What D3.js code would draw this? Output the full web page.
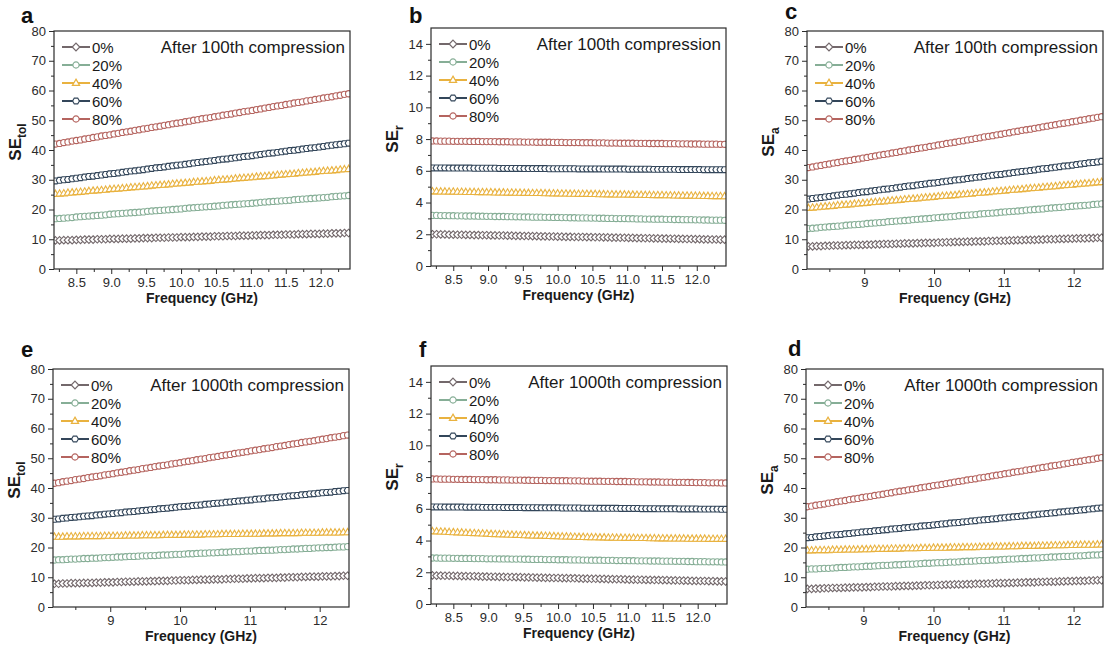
<!DOCTYPE html>
<html>
<head>
<meta charset="utf-8">
<script src="https://cdn.jsdelivr.net/npm/d3@7/dist/d3.min.js"></script>
<style>
  html, body { margin: 0; padding: 0; background: #fff; }
  svg { display: block; }
</style>
</head>
<body>
<script>
// Frequency sweep, X band (GHz)
const freq = [8.20,8.26,8.32,8.38,8.44,8.50,8.56,8.62,8.68,8.74,8.80,8.86,8.92,8.98,9.04,9.10,9.16,9.22,9.28,9.34,
  9.40,9.46,9.52,9.58,9.64,9.70,9.76,9.82,9.88,9.94,10.00,10.06,10.12,10.18,10.24,10.30,10.36,10.42,10.48,10.54,
  10.60,10.66,10.72,10.78,10.84,10.90,10.96,11.02,11.08,11.14,11.20,11.26,11.32,11.38,11.44,11.50,11.56,11.62,11.68,11.74,
  11.80,11.86,11.92,11.98,12.04,12.10,12.16,12.22,12.28,12.34,12.40];

const strainLabels = ["0%", "20%", "40%", "60%", "80%"];

// Total shielding effectiveness after 100 compression cycles (dB)
const seTol100 = [
  [9.6,9.6,9.7,9.7,9.7,9.8,9.8,9.9,9.9,9.9,10.0,10.0,10.0,10.1,10.1,10.1,10.2,10.2,10.2,10.3,
   10.3,10.4,10.4,10.4,10.5,10.5,10.5,10.6,10.6,10.6,10.7,10.7,10.7,10.8,10.8,10.9,10.9,10.9,11.0,11.0,
   11.0,11.1,11.1,11.1,11.2,11.2,11.2,11.3,11.3,11.4,11.4,11.4,11.5,11.5,11.5,11.6,11.6,11.6,11.7,11.7,
   11.7,11.8,11.8,11.8,11.9,11.9,12.0,12.0,12.0,12.1,12.1],
  [16.9,17.0,17.1,17.2,17.3,17.5,17.6,17.7,17.8,17.9,18.0,18.1,18.2,18.4,18.5,18.6,18.7,18.8,18.9,19.0,
   19.1,19.2,19.4,19.5,19.6,19.7,19.8,19.9,20.0,20.1,20.2,20.4,20.5,20.6,20.7,20.8,20.9,21.0,21.1,21.2,
   21.4,21.5,21.6,21.7,21.8,21.9,22.0,22.1,22.2,22.4,22.5,22.6,22.7,22.8,22.9,23.0,23.1,23.3,23.4,23.5,
   23.6,23.7,23.8,23.9,24.0,24.1,24.3,24.4,24.5,24.6,24.7],
  [25.2,25.3,25.4,25.6,25.7,25.8,25.9,26.0,26.2,26.3,26.4,26.5,26.6,26.8,26.9,27.0,27.1,27.2,27.4,27.5,
   27.6,27.7,27.8,28.0,28.1,28.2,28.3,28.4,28.6,28.7,28.8,28.9,29.0,29.2,29.3,29.4,29.5,29.6,29.8,29.9,
   30.0,30.1,30.2,30.4,30.5,30.6,30.7,30.8,31.0,31.1,31.2,31.3,31.4,31.6,31.7,31.8,31.9,32.0,32.2,32.3,
   32.4,32.5,32.6,32.8,32.9,33.0,33.1,33.2,33.4,33.5,33.6],
  [29.6,29.8,30.0,30.1,30.3,30.5,30.7,30.9,31.1,31.2,31.4,31.6,31.8,32.0,32.1,32.3,32.5,32.7,32.9,33.0,
   33.2,33.4,33.6,33.8,34.0,34.1,34.3,34.5,34.7,34.9,35.0,35.2,35.4,35.6,35.8,36.0,36.1,36.3,36.5,36.7,
   36.9,37.0,37.2,37.4,37.6,37.8,37.9,38.1,38.3,38.5,38.7,38.9,39.0,39.2,39.4,39.6,39.8,39.9,40.1,40.3,
   40.5,40.7,40.8,41.0,41.2,41.4,41.6,41.8,41.9,42.1,42.3],
  [42.0,42.2,42.5,42.7,43.0,43.2,43.4,43.7,43.9,44.2,44.4,44.7,44.9,45.1,45.4,45.6,45.9,46.1,46.3,46.6,
   46.8,47.1,47.3,47.6,47.8,48.0,48.3,48.5,48.8,49.0,49.2,49.5,49.7,50.0,50.2,50.5,50.7,50.9,51.2,51.4,
   51.7,51.9,52.1,52.4,52.6,52.9,53.1,53.3,53.6,53.8,54.1,54.3,54.6,54.8,55.0,55.3,55.5,55.8,56.0,56.2,
   56.5,56.7,57.0,57.2,57.5,57.7,57.9,58.2,58.4,58.7,58.9]
];

// Reflection loss after 100 compression cycles (dB)
const seR100 = [
  [2.00,2.00,1.99,1.99,1.98,1.98,1.97,1.97,1.96,1.96,1.95,1.95,1.94,1.94,1.93,1.93,1.92,1.92,1.91,1.91,
   1.90,1.90,1.89,1.89,1.88,1.88,1.87,1.87,1.86,1.86,1.85,1.85,1.84,1.84,1.83,1.83,1.83,1.82,1.82,1.81,
   1.81,1.80,1.80,1.79,1.79,1.78,1.78,1.77,1.77,1.76,1.76,1.75,1.75,1.74,1.74,1.73,1.73,1.72,1.72,1.71,
   1.71,1.70,1.70,1.69,1.69,1.68,1.68,1.67,1.67,1.66,1.66],
  [3.19,3.19,3.18,3.18,3.17,3.17,3.16,3.16,3.15,3.15,3.15,3.14,3.14,3.13,3.13,3.12,3.12,3.12,3.11,3.11,
   3.10,3.10,3.09,3.09,3.08,3.08,3.08,3.07,3.07,3.06,3.06,3.05,3.05,3.04,3.04,3.03,3.03,3.03,3.02,3.02,
   3.01,3.01,3.00,3.00,2.99,2.99,2.99,2.98,2.98,2.97,2.97,2.96,2.96,2.95,2.95,2.95,2.94,2.94,2.93,2.93,
   2.92,2.92,2.92,2.91,2.91,2.90,2.90,2.89,2.89,2.89,2.88],
  [4.70,4.70,4.69,4.69,4.68,4.68,4.67,4.67,4.66,4.66,4.66,4.65,4.65,4.64,4.64,4.63,4.63,4.63,4.62,4.62,
   4.61,4.61,4.60,4.60,4.59,4.59,4.59,4.58,4.58,4.57,4.57,4.56,4.56,4.55,4.55,4.54,4.54,4.54,4.53,4.53,
   4.52,4.52,4.51,4.51,4.50,4.50,4.50,4.49,4.49,4.48,4.48,4.47,4.47,4.46,4.46,4.46,4.45,4.45,4.44,4.44,
   4.43,4.43,4.43,4.42,4.42,4.41,4.41,4.40,4.40,4.40,4.39],
  [6.18,6.18,6.18,6.18,6.17,6.17,6.17,6.17,6.17,6.17,6.16,6.16,6.16,6.16,6.16,6.16,6.15,6.15,6.15,6.15,
   6.15,6.15,6.14,6.14,6.14,6.14,6.14,6.14,6.13,6.13,6.13,6.13,6.13,6.13,6.13,6.12,6.12,6.12,6.12,6.12,
   6.12,6.11,6.11,6.11,6.11,6.11,6.11,6.10,6.10,6.10,6.10,6.10,6.10,6.09,6.09,6.09,6.09,6.09,6.09,6.08,
   6.08,6.08,6.08,6.08,6.08,6.07,6.07,6.07,6.07,6.07,6.07],
  [7.88,7.88,7.87,7.87,7.87,7.86,7.86,7.86,7.86,7.85,7.85,7.85,7.84,7.84,7.84,7.84,7.83,7.83,7.83,7.82,
   7.82,7.82,7.81,7.81,7.81,7.80,7.80,7.80,7.80,7.79,7.79,7.79,7.78,7.78,7.78,7.78,7.77,7.77,7.77,7.76,
   7.76,7.76,7.75,7.75,7.75,7.74,7.74,7.74,7.74,7.73,7.73,7.73,7.72,7.72,7.72,7.72,7.71,7.71,7.71,7.70,
   7.70,7.70,7.69,7.69,7.69,7.68,7.68,7.68,7.68,7.67,7.67]
];

// Absorption loss after 100 compression cycles (dB)
const seA100 = [
  [7.6,7.6,7.7,7.7,7.8,7.8,7.9,7.9,7.9,8.0,8.0,8.1,8.1,8.1,8.2,8.2,8.3,8.3,8.4,8.4,
   8.4,8.5,8.5,8.6,8.6,8.6,8.7,8.7,8.8,8.8,8.8,8.9,8.9,9.0,9.0,9.1,9.1,9.1,9.2,9.2,
   9.3,9.3,9.3,9.4,9.4,9.5,9.5,9.5,9.6,9.6,9.7,9.7,9.8,9.8,9.8,9.9,9.9,10.0,10.0,10.0,
   10.1,10.1,10.2,10.2,10.3,10.3,10.3,10.4,10.4,10.5,10.5],
  [13.6,13.7,13.8,14.0,14.1,14.2,14.3,14.4,14.5,14.7,14.8,14.9,15.0,15.1,15.3,15.4,15.5,15.6,15.7,15.9,
   16.0,16.1,16.2,16.3,16.4,16.6,16.7,16.8,16.9,17.0,17.2,17.3,17.4,17.5,17.6,17.7,17.9,18.0,18.1,18.2,
   18.3,18.5,18.6,18.7,18.8,18.9,19.1,19.2,19.3,19.4,19.5,19.6,19.8,19.9,20.0,20.1,20.2,20.4,20.5,20.6,
   20.7,20.8,21.0,21.1,21.2,21.3,21.4,21.5,21.7,21.8,21.9],
  [20.5,20.6,20.7,20.9,21.0,21.1,21.2,21.4,21.5,21.6,21.7,21.9,22.0,22.1,22.2,22.4,22.5,22.6,22.7,22.9,
   23.0,23.1,23.2,23.4,23.5,23.6,23.7,23.9,24.0,24.1,24.2,24.4,24.5,24.6,24.7,24.8,25.0,25.1,25.2,25.3,
   25.5,25.6,25.7,25.8,26.0,26.1,26.2,26.3,26.5,26.6,26.7,26.8,27.0,27.1,27.2,27.3,27.5,27.6,27.7,27.8,
   28.0,28.1,28.2,28.3,28.5,28.6,28.7,28.8,29.0,29.1,29.2],
  [23.5,23.7,23.9,24.0,24.2,24.4,24.6,24.8,25.0,25.1,25.3,25.5,25.7,25.9,26.0,26.2,26.4,26.6,26.8,26.9,
   27.1,27.3,27.5,27.7,27.9,28.0,28.2,28.4,28.6,28.8,28.9,29.1,29.3,29.5,29.7,29.9,30.0,30.2,30.4,30.6,
   30.8,30.9,31.1,31.3,31.5,31.7,31.8,32.0,32.2,32.4,32.6,32.8,32.9,33.1,33.3,33.5,33.7,33.8,34.0,34.2,
   34.4,34.6,34.7,34.9,35.1,35.3,35.5,35.7,35.8,36.0,36.2],
  [34.1,34.3,34.6,34.8,35.1,35.3,35.6,35.8,36.1,36.3,36.5,36.8,37.0,37.3,37.5,37.8,38.0,38.3,38.5,38.7,
   39.0,39.2,39.5,39.7,40.0,40.2,40.5,40.7,40.9,41.2,41.4,41.7,41.9,42.2,42.4,42.6,42.9,43.1,43.4,43.6,
   43.9,44.1,44.4,44.6,44.8,45.1,45.3,45.6,45.8,46.1,46.3,46.6,46.8,47.0,47.3,47.5,47.8,48.0,48.3,48.5,
   48.8,49.0,49.2,49.5,49.7,50.0,50.2,50.5,50.7,51.0,51.2]
];

// Total shielding effectiveness after 1000 compression cycles (dB)
const seTol1000 = [
  [7.8,7.8,7.9,7.9,8.0,8.0,8.0,8.1,8.1,8.1,8.2,8.2,8.3,8.3,8.3,8.4,8.4,8.5,8.5,8.5,
   8.6,8.6,8.6,8.7,8.7,8.8,8.8,8.8,8.9,8.9,9.0,9.0,9.0,9.1,9.1,9.2,9.2,9.2,9.3,9.3,
   9.3,9.4,9.4,9.5,9.5,9.5,9.6,9.6,9.7,9.7,9.7,9.8,9.8,9.8,9.9,9.9,10.0,10.0,10.0,10.1,
   10.1,10.2,10.2,10.2,10.3,10.3,10.3,10.4,10.4,10.5,10.5],
  [15.8,15.9,15.9,16.0,16.1,16.1,16.2,16.3,16.3,16.4,16.4,16.5,16.6,16.6,16.7,16.8,16.8,16.9,17.0,17.0,
   17.1,17.2,17.2,17.3,17.3,17.4,17.5,17.5,17.6,17.7,17.7,17.8,17.9,17.9,18.0,18.1,18.1,18.2,18.2,18.3,
   18.4,18.4,18.5,18.6,18.6,18.7,18.8,18.8,18.9,19.0,19.0,19.1,19.1,19.2,19.3,19.3,19.4,19.5,19.5,19.6,
   19.7,19.7,19.8,19.9,19.9,20.0,20.0,20.1,20.2,20.2,20.3],
  [23.6,23.6,23.6,23.7,23.7,23.7,23.7,23.8,23.8,23.8,23.8,23.8,23.9,23.9,23.9,23.9,23.9,24.0,24.0,24.0,
   24.0,24.1,24.1,24.1,24.1,24.1,24.2,24.2,24.2,24.2,24.2,24.3,24.3,24.3,24.3,24.3,24.4,24.4,24.4,24.4,
   24.5,24.5,24.5,24.5,24.5,24.6,24.6,24.6,24.6,24.6,24.7,24.7,24.7,24.7,24.8,24.8,24.8,24.8,24.8,24.9,
   24.9,24.9,24.9,24.9,25.0,25.0,25.0,25.0,25.0,25.1,25.1],
  [29.5,29.6,29.8,29.9,30.1,30.2,30.3,30.5,30.6,30.7,30.9,31.0,31.2,31.3,31.4,31.6,31.7,31.9,32.0,32.1,
   32.3,32.4,32.5,32.7,32.8,33.0,33.1,33.2,33.4,33.5,33.7,33.8,33.9,34.1,34.2,34.3,34.5,34.6,34.8,34.9,
   35.0,35.2,35.3,35.5,35.6,35.7,35.9,36.0,36.2,36.3,36.4,36.6,36.7,36.8,37.0,37.1,37.3,37.4,37.5,37.7,
   37.8,38.0,38.1,38.2,38.4,38.5,38.6,38.8,38.9,39.1,39.2],
  [41.6,41.8,42.1,42.3,42.5,42.8,43.0,43.2,43.5,43.7,43.9,44.1,44.4,44.6,44.8,45.1,45.3,45.5,45.8,46.0,
   46.2,46.5,46.7,46.9,47.2,47.4,47.6,47.8,48.1,48.3,48.5,48.8,49.0,49.2,49.5,49.7,49.9,50.2,50.4,50.6,
   50.9,51.1,51.3,51.6,51.8,52.0,52.2,52.5,52.7,52.9,53.2,53.4,53.6,53.9,54.1,54.3,54.6,54.8,55.0,55.3,
   55.5,55.7,55.9,56.2,56.4,56.6,56.9,57.1,57.3,57.6,57.8]
];

// Reflection loss after 1000 compression cycles (dB)
const seR1000 = [
  [1.80,1.79,1.79,1.78,1.78,1.77,1.77,1.76,1.76,1.75,1.75,1.74,1.73,1.73,1.72,1.72,1.71,1.71,1.70,1.70,
   1.69,1.69,1.68,1.68,1.67,1.66,1.66,1.65,1.65,1.64,1.64,1.63,1.63,1.62,1.62,1.61,1.60,1.60,1.59,1.59,
   1.58,1.58,1.57,1.57,1.56,1.56,1.55,1.54,1.54,1.53,1.53,1.52,1.52,1.51,1.51,1.50,1.50,1.49,1.49,1.48,
   1.47,1.47,1.46,1.46,1.45,1.45,1.44,1.44,1.43,1.43,1.42],
  [2.90,2.90,2.89,2.89,2.89,2.88,2.88,2.87,2.87,2.87,2.86,2.86,2.86,2.85,2.85,2.85,2.84,2.84,2.84,2.83,
   2.83,2.83,2.82,2.82,2.81,2.81,2.81,2.80,2.80,2.80,2.79,2.79,2.79,2.78,2.78,2.78,2.77,2.77,2.76,2.76,
   2.76,2.75,2.75,2.75,2.74,2.74,2.74,2.73,2.73,2.72,2.72,2.72,2.71,2.71,2.71,2.70,2.70,2.70,2.69,2.69,
   2.69,2.68,2.68,2.67,2.67,2.67,2.66,2.66,2.66,2.65,2.65],
  [4.58,4.57,4.56,4.55,4.53,4.52,4.51,4.50,4.48,4.47,4.46,4.45,4.44,4.43,4.41,4.40,4.39,4.38,4.37,4.36,
   4.35,4.34,4.33,4.32,4.31,4.30,4.30,4.29,4.28,4.27,4.26,4.25,4.25,4.24,4.23,4.22,4.22,4.21,4.20,4.20,
   4.19,4.19,4.18,4.18,4.17,4.17,4.16,4.16,4.16,4.15,4.15,4.15,4.14,4.14,4.13,4.13,4.13,4.12,4.12,4.12,
   4.12,4.11,4.11,4.11,4.11,4.11,4.10,4.10,4.10,4.10,4.10],
  [6.12,6.12,6.12,6.11,6.11,6.11,6.11,6.11,6.10,6.10,6.10,6.10,6.09,6.09,6.09,6.09,6.09,6.08,6.08,6.08,
   6.08,6.08,6.07,6.07,6.07,6.07,6.06,6.06,6.06,6.06,6.06,6.05,6.05,6.05,6.05,6.05,6.04,6.04,6.04,6.04,
   6.03,6.03,6.03,6.03,6.03,6.02,6.02,6.02,6.02,6.02,6.01,6.01,6.01,6.01,6.00,6.00,6.00,6.00,6.00,5.99,
   5.99,5.99,5.99,5.99,5.98,5.98,5.98,5.98,5.98,5.97,5.97],
  [7.88,7.88,7.87,7.87,7.87,7.86,7.86,7.85,7.85,7.85,7.84,7.84,7.84,7.83,7.83,7.83,7.82,7.82,7.82,7.81,
   7.81,7.81,7.80,7.80,7.79,7.79,7.79,7.78,7.78,7.78,7.77,7.77,7.77,7.76,7.76,7.76,7.75,7.75,7.74,7.74,
   7.74,7.73,7.73,7.73,7.72,7.72,7.72,7.71,7.71,7.70,7.70,7.70,7.69,7.69,7.69,7.68,7.68,7.68,7.67,7.67,
   7.67,7.66,7.66,7.65,7.65,7.65,7.64,7.64,7.64,7.63,7.63]
];

// Absorption loss after 1000 compression cycles (dB)
const seA1000 = [
  [6.1,6.1,6.2,6.2,6.3,6.3,6.4,6.4,6.4,6.5,6.5,6.6,6.6,6.6,6.7,6.7,6.8,6.8,6.9,6.9,
   6.9,7.0,7.0,7.1,7.1,7.1,7.2,7.2,7.3,7.3,7.3,7.4,7.4,7.5,7.5,7.6,7.6,7.6,7.7,7.7,
   7.8,7.8,7.8,7.9,7.9,8.0,8.0,8.0,8.1,8.1,8.2,8.2,8.3,8.3,8.3,8.4,8.4,8.5,8.5,8.5,
   8.6,8.6,8.7,8.7,8.8,8.8,8.8,8.9,8.9,9.0,9.0],
  [12.7,12.8,12.8,12.9,13.0,13.0,13.1,13.2,13.3,13.3,13.4,13.5,13.5,13.6,13.7,13.7,13.8,13.9,14.0,14.0,
   14.1,14.2,14.2,14.3,14.4,14.4,14.5,14.6,14.7,14.7,14.8,14.9,14.9,15.0,15.1,15.1,15.2,15.3,15.4,15.4,
   15.5,15.6,15.6,15.7,15.8,15.8,15.9,16.0,16.1,16.1,16.2,16.3,16.3,16.4,16.5,16.5,16.6,16.7,16.8,16.8,
   16.9,17.0,17.0,17.1,17.2,17.2,17.3,17.4,17.5,17.5,17.6],
  [19.0,19.0,19.1,19.1,19.1,19.1,19.2,19.2,19.2,19.3,19.3,19.3,19.3,19.4,19.4,19.4,19.5,19.5,19.5,19.5,
   19.6,19.6,19.6,19.7,19.7,19.7,19.7,19.8,19.8,19.8,19.9,19.9,19.9,19.9,20.0,20.0,20.0,20.1,20.1,20.1,
   20.1,20.2,20.2,20.2,20.3,20.3,20.3,20.3,20.4,20.4,20.4,20.5,20.5,20.5,20.5,20.6,20.6,20.6,20.7,20.7,
   20.7,20.7,20.8,20.8,20.8,20.9,20.9,20.9,20.9,21.0,21.0],
  [23.3,23.4,23.6,23.7,23.9,24.0,24.2,24.3,24.4,24.6,24.7,24.9,25.0,25.2,25.3,25.4,25.6,25.7,25.9,26.0,
   26.2,26.3,26.4,26.6,26.7,26.9,27.0,27.2,27.3,27.4,27.6,27.7,27.9,28.0,28.2,28.3,28.4,28.6,28.7,28.9,
   29.0,29.2,29.3,29.4,29.6,29.7,29.9,30.0,30.2,30.3,30.4,30.6,30.7,30.9,31.0,31.2,31.3,31.4,31.6,31.7,
   31.9,32.0,32.2,32.3,32.4,32.6,32.7,32.9,33.0,33.2,33.3],
  [33.7,33.9,34.2,34.4,34.6,34.9,35.1,35.4,35.6,35.8,36.1,36.3,36.5,36.8,37.0,37.2,37.5,37.7,37.9,38.2,
   38.4,38.7,38.9,39.1,39.4,39.6,39.8,40.1,40.3,40.5,40.8,41.0,41.2,41.5,41.7,42.0,42.2,42.4,42.7,42.9,
   43.1,43.4,43.6,43.8,44.1,44.3,44.5,44.8,45.0,45.3,45.5,45.7,46.0,46.2,46.4,46.7,46.9,47.1,47.4,47.6,
   47.8,48.1,48.3,48.6,48.8,49.0,49.3,49.5,49.7,50.0,50.2]
];

// Axis tick values
const yTicksDb = [0,10,20,30,40,50,60,70,80];
const yMinorDb = [5,15,25,35,45,55,65,75];
const yTicksR = [0,2,4,6,8,10,12,14];
const yMinorR = [1,3,5,7,9,11,13];
const xTicksHalf = [8.5,9.0,9.5,10.0,10.5,11.0,11.5,12.0];
const xMinorHalf = [8.25,8.75,9.25,9.75,10.25,10.75,11.25,11.75,12.25];
const xTicksWhole = [9,10,11,12];
const xMinorWhole = [8.5,9.5,10.5,11.5];

const W = 1105, H = 655;
const FONT = "'Liberation Sans', Arial, Helvetica, sans-serif";
const INK = "#2b2b2b";
const colors = ["#73686b", "#86ae96", "#e9b23f", "#33465a", "#b5645f"];
const shapes = ["diamond", "circle", "triangle", "hexagon", "circle"];
const xDomain = [8.18, 12.42];

function symbolPath(shape) {
  switch (shape) {
    case "diamond":  return "M0,-3.8L3.8,0L0,3.8L-3.8,0Z";
    case "triangle": return "M0,-3.9L3.6,2.4L-3.6,2.4Z";
    case "hexagon": {
      const r = 3.4;
      return d3.range(6).map((k, i) => {
        const a = Math.PI / 3 * k;
        return (i ? "L" : "M") + (r * Math.cos(a)).toFixed(2) + "," + (r * Math.sin(a)).toFixed(2);
      }).join("") + "Z";
    }
    default: {
      const r = 3.1;
      return `M${r},0A${r},${r} 0 1,1 ${-r},0A${r},${r} 0 1,1 ${r},0Z`;
    }
  }
}

const svg = d3.select("body").append("svg")
  .attr("width", W).attr("height", H)
  .attr("font-family", FONT);

const panels = [
  { id: "a", letter: "a", lx: 21, ly: 23, left: 54,  top: 31,  right: 350,  bottom: 269, data: seTol100, yMax: 80, yTicks: yTicksDb, yMinor: yMinorDb, xTicks: xTicksHalf, xMinor: xMinorHalf, fmt: d3.format(".1f"), sub: "tol", title: "After 100th compression" },
  { id: "b", letter: "b", lx: 409, ly: 23, left: 431, top: 28,  right: 726,  bottom: 266, data: seR100,   yMax: 15, yTicks: yTicksR,  yMinor: yMinorR,  xTicks: xTicksHalf, xMinor: xMinorHalf, fmt: d3.format(".1f"), sub: "r",   title: "After 100th compression" },
  { id: "c", letter: "c", lx: 785, ly: 19, left: 807, top: 31,  right: 1103, bottom: 269, data: seA100,   yMax: 80, yTicks: yTicksDb, yMinor: yMinorDb, xTicks: xTicksWhole, xMinor: xMinorWhole, fmt: d3.format("d"), sub: "a", title: "After 100th compression" },
  { id: "e", letter: "e", lx: 21, ly: 357, left: 53,  top: 369, right: 349,  bottom: 607, data: seTol1000, yMax: 80, yTicks: yTicksDb, yMinor: yMinorDb, xTicks: xTicksWhole, xMinor: xMinorWhole, fmt: d3.format("d"), sub: "tol", title: "After 1000th compression" },
  { id: "f", letter: "f", lx: 419, ly: 357, left: 431, top: 366, right: 727,  bottom: 604, data: seR1000,  yMax: 15, yTicks: yTicksR,  yMinor: yMinorR,  xTicks: xTicksHalf, xMinor: xMinorHalf, fmt: d3.format(".1f"), sub: "r",   title: "After 1000th compression" },
  { id: "d", letter: "d", lx: 788, ly: 356, left: 806, top: 369, right: 1103, bottom: 607, data: seA1000,  yMax: 80, yTicks: yTicksDb, yMinor: yMinorDb, xTicks: xTicksWhole, xMinor: xMinorWhole, fmt: d3.format("d"), sub: "a", title: "After 1000th compression" }
];

panels.forEach(drawPanel);

function styleAxis(g) {
  g.select(".domain").remove();
  g.selectAll(".tick line").attr("stroke", INK).attr("stroke-width", 1);
  g.selectAll(".tick text").attr("fill", INK).attr("font-size", 13).attr("font-family", FONT);
}

function drawPanel(p) {
  const x = d3.scaleLinear().domain(xDomain).range([p.left, p.right]);
  const y = d3.scaleLinear().domain([0, p.yMax]).range([p.bottom, p.top]);
  const g = svg.append("g");

  const clipId = "clip-" + p.id;
  g.append("clipPath").attr("id", clipId)
    .append("rect").attr("x", p.left).attr("y", p.top)
    .attr("width", p.right - p.left).attr("height", p.bottom - p.top);

  const plot = g.append("g").attr("clip-path", `url(#${clipId})`);
  const line = d3.line().x(d => x(d[0])).y(d => y(d[1]));

  p.data.forEach((vals, k) => {
    const pts = freq.map((f, i) => [f, vals[i]]);
    plot.append("path").attr("d", line(pts))
      .attr("fill", "none").attr("stroke", colors[k]).attr("stroke-width", 1.3);
    plot.append("g").selectAll("path").data(pts).join("path")
      .attr("transform", d => `translate(${x(d[0])},${y(d[1])})`)
      .attr("d", symbolPath(shapes[k]))
      .attr("fill", "#fff").attr("stroke", colors[k]).attr("stroke-width", 1.1);
  });

  // axes: major and minor ticks, pointing outward
  g.append("g").attr("transform", `translate(0,${p.bottom})`)
    .call(d3.axisBottom(x).tickValues(p.xTicks).tickFormat(p.fmt).tickSize(5).tickPadding(4))
    .call(styleAxis);
  g.append("g").attr("transform", `translate(0,${p.bottom})`)
    .call(d3.axisBottom(x).tickValues(p.xMinor).tickFormat("").tickSize(3))
    .call(styleAxis);
  g.append("g").attr("transform", `translate(${p.left},0)`)
    .call(d3.axisLeft(y).tickValues(p.yTicks).tickFormat(d3.format("d")).tickSize(5).tickPadding(3))
    .call(styleAxis);
  g.append("g").attr("transform", `translate(${p.left},0)`)
    .call(d3.axisLeft(y).tickValues(p.yMinor).tickFormat("").tickSize(3))
    .call(styleAxis);

  // frame
  g.append("rect").attr("x", p.left).attr("y", p.top)
    .attr("width", p.right - p.left).attr("height", p.bottom - p.top)
    .attr("fill", "none").attr("stroke", INK).attr("stroke-width", 1.2);

  // axis titles
  g.append("text")
    .attr("x", (p.left + p.right) / 2).attr("y", p.bottom + 34)
    .attr("text-anchor", "middle").attr("font-weight", "bold").attr("font-size", 14).attr("fill", "#1a1a1a")
    .text("Frequency (GHz)");

  const yt = g.append("text")
    .attr("transform", `translate(${p.left - 33},${p.top + 111}) rotate(-90)`)
    .attr("text-anchor", "middle").attr("font-weight", "bold").attr("fill", "#1a1a1a");
  yt.append("tspan").attr("font-size", 17).text("SE");
  yt.append("tspan").attr("font-size", 12).attr("dy", 5).text(p.sub);

  // panel letter
  g.append("text").attr("x", p.lx).attr("y", p.ly)
    .attr("font-weight", "bold").attr("font-size", 22).attr("fill", "#111")
    .text(p.letter);

  // condition label
  g.append("text").attr("x", p.right - 5).attr("y", p.top + 22)
    .attr("text-anchor", "end").attr("font-size", 17).attr("fill", "#1a1a1a")
    .text(p.title);

  // legend
  const leg = g.append("g");
  strainLabels.forEach((lab, k) => {
    const ry = p.top + 16 + 18 * k;
    leg.append("line").attr("x1", p.left + 8).attr("x2", p.left + 36)
      .attr("y1", ry).attr("y2", ry)
      .attr("stroke", colors[k]).attr("stroke-width", 2);
    leg.append("path").attr("transform", `translate(${p.left + 22},${ry})`)
      .attr("d", symbolPath(shapes[k]))
      .attr("fill", "#fff").attr("stroke", colors[k]).attr("stroke-width", 1.2);
    leg.append("text").attr("x", p.left + 38).attr("y", ry + 5.5)
      .attr("font-size", 15).attr("fill", "#1a1a1a").text(lab);
  });
}
</script>
</body>
</html>
